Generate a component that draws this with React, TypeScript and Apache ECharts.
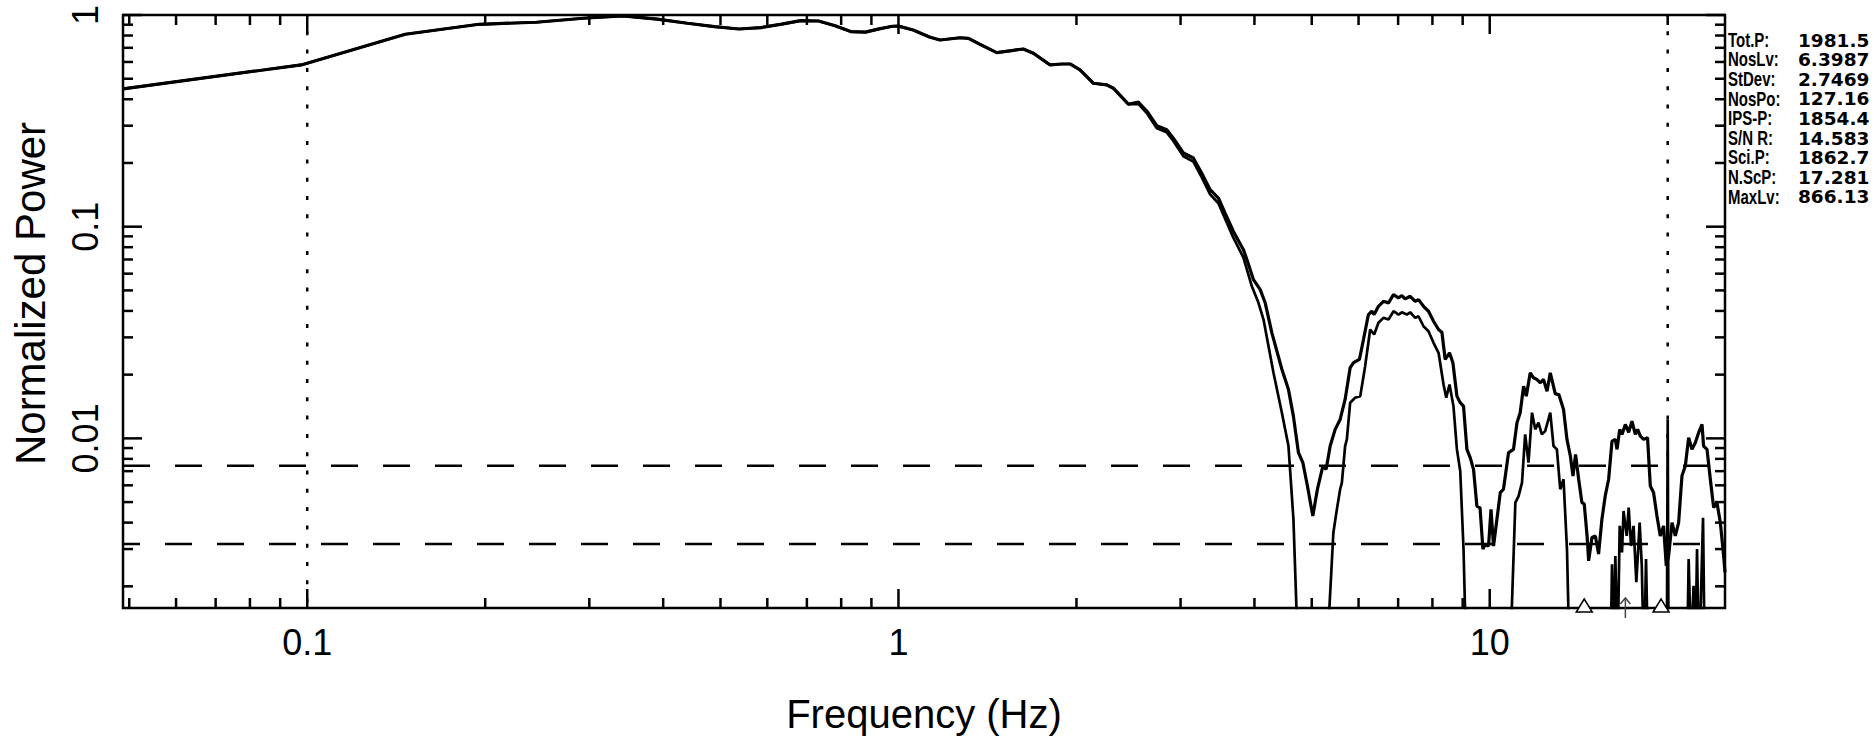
import React, { useEffect, useRef } from "react";
import * as echarts from "echarts";

// ---- axis ranges & tick values ----
const X_MIN = 0.0488;
const X_MAX = 25;
const Y_MIN = 0.00158;
const Y_MAX = 1;

const X_MAJOR_TICKS = [0.1, 1, 10];
const X_MINOR_TICKS = [0.05, 0.06, 0.07, 0.08, 0.09, 0.2, 0.3, 0.4, 0.5, 0.6, 0.7, 0.8, 0.9, 2, 3, 4, 5, 6, 7, 8, 9, 20];
const Y_MAJOR_TICKS = [0.01, 0.1, 1];
const Y_MINOR_TICKS = [0.002, 0.003, 0.004, 0.005, 0.006, 0.007, 0.008, 0.009, 0.02, 0.03, 0.04, 0.05, 0.06, 0.07, 0.08, 0.09, 0.2, 0.3, 0.4, 0.5, 0.6, 0.7, 0.8, 0.9];

// ---- reference lines & markers ----
const DOTTED_FREQS = [0.1, 20];
const DASHED_LEVELS = [0.00743, 0.00317];
const TRIANGLE_FREQS = [14.45, 19.49];
const ARROW_FREQS = [16.96];

// ---- statistics panel ----
const STAT_LABELS = ["Tot.P:", "NosLv:", "StDev:", "NosPo:", "IPS-P:", "S/N R:", "Sci.P:", "N.ScP:", "MaxLv:"];
const STAT_VALUES = ["1981.5", "6.3987", "2.7469", "127.16", "1854.4", "14.583", "1862.7", "17.281", "866.13"];

// ---- spectra: [frequency (Hz), normalized power] ----
const COMMON_LOW: [number, number][] = [
  [0.0488, 0.448], [0.0977, 0.581], [0.1465, 0.811], [0.1953, 0.904], [0.2441, 0.924],
  [0.293, 0.965], [0.3418, 0.99], [0.3906, 0.957], [0.4395, 0.914], [0.4883, 0.881],
  [0.5371, 0.859], [0.5859, 0.872], [0.6348, 0.905], [0.6836, 0.94], [0.7324, 0.937],
  [0.7813, 0.89], [0.8301, 0.835], [0.8789, 0.83], [0.9277, 0.86], [0.9766, 0.885],
  [1.0, 0.886], [1.059, 0.85], [1.131, 0.785], [1.176, 0.762], [1.271, 0.781],
  [1.313, 0.776], [1.374, 0.727], [1.466, 0.664], [1.554, 0.679], [1.626, 0.691],
  [1.691, 0.66], [1.804, 0.581], [1.889, 0.587], [1.951, 0.587], [2.028, 0.55],
  [2.136, 0.476], [2.25, 0.468], [2.309, 0.451], [2.448, 0.379],
];

const UPPER_TAIL: [number, number][] = [
  [2.545, 0.388], [2.63, 0.352], [2.735, 0.3], [2.843, 0.287], [2.917, 0.262],
  [3.033, 0.223], [3.153, 0.211], [3.258, 0.179], [3.366, 0.1495], [3.476, 0.1366],
  [3.568, 0.116], [3.686, 0.095], [3.832, 0.0779], [3.884, 0.0699], [3.985, 0.0562],
  [4.091, 0.0504], [4.171, 0.0437], [4.281, 0.0315], [4.451, 0.0212], [4.567, 0.017],
  [4.656, 0.0127], [4.748, 0.00856], [4.83, 0.00768], [4.917, 0.00596], [5.021, 0.0043],
  [5.112, 0.00575], [5.221, 0.0074], [5.289, 0.00714], [5.372, 0.0092], [5.478, 0.01103],
  [5.585, 0.01229], [5.694, 0.01528], [5.807, 0.02156], [5.881, 0.02276], [6.021, 0.02359],
  [6.116, 0.02931], [6.235, 0.03845], [6.319, 0.03986], [6.376, 0.03845], [6.483, 0.04208],
  [6.611, 0.04443], [6.742, 0.04367], [6.875, 0.04777], [7.01, 0.0461], [7.102, 0.04726],
  [7.194, 0.0456], [7.336, 0.0469], [7.481, 0.04443], [7.578, 0.04525], [7.727, 0.04208],
  [7.879, 0.03986], [8.035, 0.03575], [8.193, 0.03267], [8.301, 0.03172], [8.408, 0.02359],
  [8.551, 0.02536], [8.664, 0.02276], [8.801, 0.01583], [8.915, 0.01474], [9.03, 0.0142],
  [9.15, 0.00887], [9.268, 0.00811], [9.389, 0.00714], [9.513, 0.00479], [9.63, 0.0047],
  [9.739, 0.003], [9.826, 0.00316], [9.954, 0.0031], [10.05, 0.00462], [10.15, 0.0031],
  [10.42, 0.00554], [10.55, 0.00575], [10.76, 0.00856], [10.97, 0.00887], [11.12, 0.01186],
  [11.26, 0.01322], [11.41, 0.01765], [11.53, 0.01583], [11.71, 0.02041], [11.86, 0.01933],
  [12.01, 0.019], [12.18, 0.01831], [12.33, 0.01899], [12.5, 0.01671], [12.66, 0.02041],
  [12.91, 0.01622], [13.09, 0.0161], [13.33, 0.0137], [13.51, 0.00989], [13.69, 0.00825],
  [13.83, 0.00664], [13.97, 0.0084], [14.14, 0.00641], [14.32, 0.00497], [14.45, 0.0049],
  [14.61, 0.00346], [14.7, 0.00264], [14.89, 0.0034], [15.09, 0.00346], [15.28, 0.00284],
  [15.48, 0.00415], [15.68, 0.00534], [15.89, 0.00641], [16.1, 0.00971], [16.31, 0.00989],
  [16.42, 0.00887], [16.59, 0.01103], [16.74, 0.01044], [16.96, 0.01164], [17.18, 0.01067],
  [17.4, 0.01207], [17.63, 0.01044], [17.79, 0.01103], [17.98, 0.01025], [18.21, 0.00989],
  [18.49, 0.01008], [18.69, 0.00596], [18.93, 0.00554], [19.18, 0.0043], [19.43, 0.00346],
  [19.68, 0.00386], [19.89, 0.0025], [20.07, 0.00278], [20.34, 0.004], [20.6, 0.00346],
  [20.87, 0.004], [21.14, 0.00664], [21.42, 0.0074], [21.7, 0.01008], [21.98, 0.00887],
  [22.27, 0.00954], [22.56, 0.01064], [22.86, 0.01164], [23.0, 0.0092], [23.31, 0.00887],
  [23.61, 0.00641], [23.92, 0.00471], [24.23, 0.00497], [24.55, 0.004], [24.87, 0.00278],
  [25.0, 0.00233],
];

const LOWER_TAIL: [number, number][] = [
  [2.545, 0.38], [2.63, 0.344], [2.735, 0.292], [2.843, 0.279], [2.917, 0.254],
  [3.033, 0.215], [3.153, 0.203], [3.258, 0.171], [3.366, 0.142], [3.476, 0.129],
  [3.568, 0.109], [3.686, 0.0885], [3.832, 0.0715], [3.96, 0.0523], [4.063, 0.0437],
  [4.144, 0.0364], [4.308, 0.0204], [4.451, 0.01322], [4.567, 0.0092], [4.656, 0.00415],
  [4.75, 0.0008], [5.3, 0.0006], [5.357, 0.0016], [5.44, 0.00359], [5.514, 0.00462],
  [5.585, 0.00575], [5.623, 0.00618], [5.694, 0.0092], [5.733, 0.00989], [5.807, 0.01474],
  [5.92, 0.01556], [6.04, 0.01583], [6.156, 0.02193], [6.278, 0.03267], [6.376, 0.03094],
  [6.483, 0.03514], [6.611, 0.0371], [6.742, 0.0364], [6.875, 0.03986], [7.01, 0.03845],
  [7.102, 0.03942], [7.243, 0.03845], [7.336, 0.03942], [7.481, 0.0371], [7.578, 0.03775],
  [7.727, 0.03386], [7.879, 0.03207], [8.035, 0.02827], [8.193, 0.02536], [8.354, 0.01797],
  [8.443, 0.01556], [8.551, 0.01797], [8.683, 0.0142], [8.801, 0.00887], [8.915, 0.00701],
  [9.03, 0.003], [9.15, 0.0007], [10.85, 0.0007], [10.9, 0.0016], [11.05, 0.00497],
  [11.19, 0.00534], [11.34, 0.00618], [11.48, 0.01044], [11.63, 0.00768], [11.79, 0.01322],
  [11.94, 0.01103], [12.09, 0.01186], [12.25, 0.01044], [12.41, 0.01082], [12.66, 0.01322],
  [12.82, 0.0092], [12.99, 0.00887], [13.16, 0.00575], [13.33, 0.00641], [13.51, 0.003],
  [13.66, 0.0008], [16.0, 0.0008], [16.1, 0.00254], [16.2, 0.0009], [16.31, 0.00278],
  [16.45, 0.0009], [16.59, 0.00386], [16.74, 0.00289], [16.84, 0.00454], [17.05, 0.00346],
  [17.18, 0.00471], [17.34, 0.0031], [17.51, 0.00386], [17.7, 0.00209], [17.93, 0.004],
  [18.08, 0.0025], [18.24, 0.0008], [18.38, 0.00269], [18.54, 0.0008], [19.93, 0.0008],
  [20.0, 0.01229], [20.07, 0.0008], [21.57, 0.0009], [21.7, 0.00269], [21.9, 0.001],
  [22.12, 0.00201], [22.27, 0.0009], [22.42, 0.003], [22.59, 0.0008], [22.95, 0.00422],
  [23.11, 0.0008], [25.0, 0.0008],
];

const UPPER_SPECTRUM = [...COMMON_LOW, ...UPPER_TAIL];
const LOWER_SPECTRUM = [...COMMON_LOW, ...LOWER_TAIL];

const FONT = "Liberation Sans, Arial, sans-serif";

function powerLabel(v: number): string {
  const l = Math.log10(v);
  const r = Math.round(l);
  if (Math.abs(l - r) > 1e-6) return "";
  return r < 0 ? Math.pow(10, r).toFixed(-r) : String(Math.round(Math.pow(10, r)));
}

function xTickSeries(ticks: number[], len: number) {
  return {
    type: "custom",
    coordinateSystem: "cartesian2d",
    silent: true,
    z: 6,
    data: ticks.map((v) => [v, Y_MIN]),
    encode: { x: 0, y: 1 },
    renderItem: (_p: any, api: any) => {
      const v = api.value(0);
      const b = api.coord([v, Y_MIN]);
      const t = api.coord([v, Y_MAX]);
      return {
        type: "group",
        children: [
          { type: "line", shape: { x1: b[0], y1: b[1], x2: b[0], y2: b[1] - len }, style: { stroke: "#000", lineWidth: 2.5 } },
          { type: "line", shape: { x1: t[0], y1: t[1], x2: t[0], y2: t[1] + len }, style: { stroke: "#000", lineWidth: 2.5 } },
        ],
      };
    },
  };
}

function yTickSeries(ticks: number[], len: number) {
  return {
    type: "custom",
    coordinateSystem: "cartesian2d",
    silent: true,
    z: 6,
    data: ticks.map((v) => [X_MIN, v]),
    encode: { x: 0, y: 1 },
    renderItem: (_p: any, api: any) => {
      const v = api.value(1);
      const l = api.coord([X_MIN, v]);
      const r = api.coord([X_MAX, v]);
      return {
        type: "group",
        children: [
          { type: "line", shape: { x1: l[0], y1: l[1], x2: l[0] + len, y2: l[1] }, style: { stroke: "#000", lineWidth: 2.5 } },
          { type: "line", shape: { x1: r[0], y1: r[1], x2: r[0] - len, y2: r[1] }, style: { stroke: "#000", lineWidth: 2.5 } },
        ],
      };
    },
  };
}

export default function App() {
  const ref = useRef<HTMLDivElement>(null);

  useEffect(() => {
    if (!ref.current) return;
    const chart = echarts.init(ref.current, undefined, { renderer: "svg" });

    const statGraphics: any[] = [];
    STAT_LABELS.forEach((lab, i) => {
      const y = 40 + i * 19.6;
      statGraphics.push({
        type: "text",
        x: 1728,
        y,
        scaleY: 1.3,
        style: { text: lab, fill: "#000", font: "bold 15px 'Liberation Sans', Arial, sans-serif", verticalAlign: "middle", align: "left" },
      });
      statGraphics.push({
        type: "text",
        x: 1798,
        y,
        style: { text: STAT_VALUES[i], fill: "#000", font: "bold 18.5px 'DejaVu Sans', sans-serif", verticalAlign: "middle", align: "left" },
      });
    });

    const refLines: any[] = [
      ...DOTTED_FREQS.map((f) => ({
        type: "line",
        data: [[f, Y_MAX], [f, Y_MIN]],
        showSymbol: false,
        symbol: "none",
        silent: true,
        z: 2,
        lineStyle: { color: "#000", width: 2.5, type: [4, 14.3], dashOffset: 2 },
      })),
      ...DASHED_LEVELS.map((v, i) => ({
        type: "line",
        data: [[X_MIN, v], [X_MAX, v]],
        showSymbol: false,
        symbol: "none",
        silent: true,
        z: 2,
        lineStyle: { color: "#000", width: 2.5, type: [27, 25], dashOffset: i === 0 ? 0 : 10 },
      })),
    ];

    const option: any = {
      animation: false,
      backgroundColor: "#fff",
      grid: {
        left: 123,
        top: 15,
        width: 1602,
        height: 594,
        show: true,
        borderColor: "#000",
        borderWidth: 2.5,
        backgroundColor: "transparent",
        containLabel: false,
      },
      xAxis: {
        type: "log",
        logBase: 10,
        min: X_MIN,
        max: X_MAX,
        axisLine: { show: false },
        axisTick: { show: false },
        splitLine: { show: false },
        axisLabel: {
          formatter: (v: number) => powerLabel(v),
          fontSize: 36,
          fontFamily: FONT,
          color: "#000",
          margin: 16,
        },
        name: "Frequency (Hz)",
        nameLocation: "middle",
        nameGap: 86,
        nameTextStyle: { fontSize: 40, fontFamily: FONT, color: "#000" },
      },
      yAxis: {
        type: "log",
        logBase: 10,
        min: Y_MIN,
        max: Y_MAX,
        axisLine: { show: false },
        axisTick: { show: false },
        splitLine: { show: false },
        axisLabel: {
          formatter: (v: number) => powerLabel(v),
          rotate: 90,
          fontSize: 36,
          fontFamily: FONT,
          color: "#000",
          margin: 20,
        },
        name: "Normalized Power",
        nameLocation: "middle",
        nameGap: 72,
        nameTextStyle: { fontSize: 42, fontFamily: FONT, color: "#000", padding: [0, 0, 0, 36] },
      },
      graphic: statGraphics,
      series: [
        ...refLines,
        {
          type: "line",
          data: LOWER_SPECTRUM,
          showSymbol: false,
          symbol: "none",
          clip: true,
          silent: true,
          z: 3,
          lineStyle: { color: "#000", width: 2.7 },
        },
        {
          type: "line",
          data: UPPER_SPECTRUM,
          showSymbol: false,
          symbol: "none",
          clip: true,
          silent: true,
          z: 4,
          lineStyle: { color: "#000", width: 3.2 },
        },
        xTickSeries(X_MAJOR_TICKS, 19),
        xTickSeries(X_MINOR_TICKS, 10),
        yTickSeries(Y_MAJOR_TICKS, 19),
        yTickSeries(Y_MINOR_TICKS, 10),
        {
          type: "custom",
          coordinateSystem: "cartesian2d",
          silent: true,
          z: 10,
          data: TRIANGLE_FREQS.map((f) => [f, Y_MIN]),
          encode: { x: 0, y: 1 },
          renderItem: (_p: any, api: any) => {
            const c = api.coord([api.value(0), Y_MIN]);
            return {
              type: "polygon",
              shape: { points: [[c[0], c[1] - 9], [c[0] - 8, c[1] + 4], [c[0] + 8, c[1] + 4]] },
              style: { fill: "#fff", stroke: "#000", lineWidth: 1.5 },
            };
          },
        },
        {
          type: "custom",
          coordinateSystem: "cartesian2d",
          silent: true,
          z: 10,
          data: ARROW_FREQS.map((f) => [f, Y_MIN]),
          encode: { x: 0, y: 1 },
          renderItem: (_p: any, api: any) => {
            const c = api.coord([api.value(0), Y_MIN]);
            return {
              type: "group",
              children: [
                { type: "line", shape: { x1: c[0], y1: c[1] + 10, x2: c[0], y2: c[1] - 10 }, style: { stroke: "#444", lineWidth: 1.5 } },
                { type: "polyline", shape: { points: [[c[0] - 5, c[1] - 4], [c[0], c[1] - 10], [c[0] + 5, c[1] - 4]] }, style: { stroke: "#444", lineWidth: 1.5, fill: "none" } },
              ],
            };
          },
        },
      ],
    };

    chart.setOption(option);
    return () => chart.dispose();
  }, []);

  return (
    <div
      ref={ref}
      style={{ position: "fixed", left: 0, top: 0, width: 1874, height: 739, background: "#fff" }}
    />
  );
}
